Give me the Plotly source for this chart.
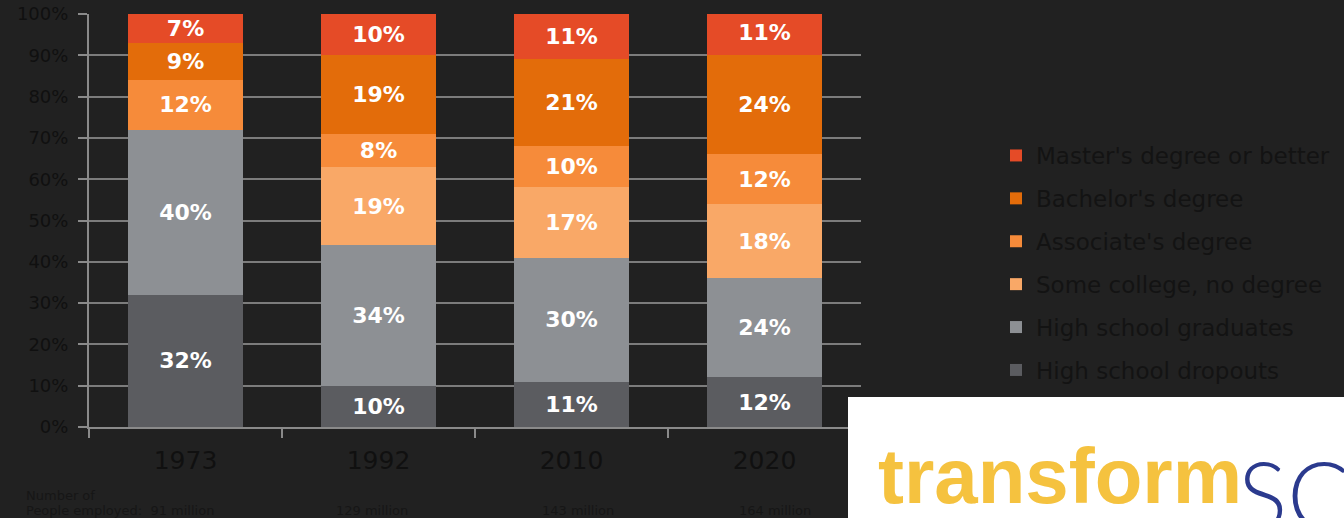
import plotly.graph_objects as go

years = ["1973", "1992", "2010", "2020"]
employed = ["91 million", "129 million", "143 million", "164 million"]

series_names = [
    "High school dropouts",
    "High school graduates",
    "Some college, no degree",
    "Associate's degree",
    "Bachelor's degree",
    "Master's degree or better",
]
dropouts = [32, 10, 11, 12]
hs_grads = [40, 34, 30, 24]
some_college = [0, 19, 17, 18]
associate = [12, 8, 10, 12]
bachelor = [9, 19, 21, 24]
master = [7, 10, 11, 11]
series_values = [dropouts, hs_grads, some_college, associate, bachelor, master]
series_colors = ["#5B5C60", "#8D9094", "#F9A867", "#F68B3A", "#E36C0A", "#E54B27"]

y_ticks = list(range(0, 101, 10))
y_tick_labels = [f"{v}%" for v in y_ticks]

W, H = 1344, 518
L, R, T, B = 89, 861, 14, 427


def px_x(x):
    return (x - L) / (R - L)


def px_y(y):
    return (B - y) / (B - T)


fig = go.Figure()
n = len(series_names)
for i, (name, vals, col) in enumerate(zip(series_names, series_values, series_colors)):
    fig.add_trace(go.Bar(
        x=years, y=vals, name=name,
        marker=dict(color=col, line=dict(width=0)),
        text=[f"{v}%" if v > 0 else "" for v in vals],
        textposition="inside", insidetextanchor="middle",
        constraintext="none", textangle=0,
        textfont=dict(family="DejaVu Sans", size=22, color="white", weight="bold"),
        legendgroup=f"g{i}", legendrank=n - i,
        hoverinfo="skip",
    ))

fig.update_layout(
    width=W, height=H,
    margin=dict(l=L, r=W - R, t=T, b=H - B, pad=0, autoexpand=False),
    paper_bgcolor="#212121", plot_bgcolor="#212121",
    barmode="stack", bargap=0.4,
    showlegend=True,
    legend=dict(
        x=px_x(996), y=px_y(134), xanchor="left", yanchor="top",
        traceorder="grouped", tracegroupgap=10,
        font=dict(family="DejaVu Sans", size=23, color="#131313"),
        bgcolor="rgba(0,0,0,0)",
    ),
    xaxis=dict(
        type="category", automargin=False,
        showline=True, linecolor="#8a8a8a", linewidth=2,
        ticks="outside", tickson="boundaries", ticklen=9, tickcolor="#8a8a8a", tickwidth=2,
        tickfont=dict(family="DejaVu Sans", size=25, color="#101010"),
        showgrid=False,
        ticklabelstandoff=10,
    ),
    yaxis=dict(
        range=[0, 100], tickvals=y_ticks, ticktext=y_tick_labels, automargin=False,
        showline=True, linecolor="#8a8a8a", linewidth=2,
        ticks="outside", ticklen=9, tickcolor="#8a8a8a", tickwidth=2,
        showgrid=True, gridcolor="#7c7c7c", gridwidth=2,
        zeroline=False, ticklabelstandoff=6,
        tickfont=dict(family="DejaVu Sans", size=18, color="#101010"),
    ),
)

# employment annotations under the axis
fig.add_annotation(xref="paper", yref="paper", x=px_x(24), y=px_y(495),
                   text="Number of", showarrow=False, xanchor="left", yanchor="middle",
                   font=dict(family="DejaVu Sans", size=13, color="#161616"))
fig.add_annotation(xref="paper", yref="paper", x=px_x(24), y=px_y(511),
                   text="People employed:  " + employed[0], showarrow=False,
                   xanchor="left", yanchor="middle",
                   font=dict(family="DejaVu Sans", size=13, color="#161616"))
for xpix, emp in zip([372, 578, 775], employed[1:]):
    fig.add_annotation(xref="paper", yref="paper", x=px_x(xpix), y=px_y(511), text=emp,
                       showarrow=False, xanchor="center", yanchor="middle",
                       font=dict(family="DejaVu Sans", size=13, color="#161616"))

# logo box
fig.add_shape(type="rect", xref="paper", yref="paper",
              x0=px_x(848), x1=px_x(1400), y0=px_y(560), y1=px_y(397),
              fillcolor="white", line=dict(width=0), layer="above")
fig.add_annotation(xref="paper", yref="paper", x=px_x(876), y=px_y(430),
                   text="transform", showarrow=False, xanchor="left", yanchor="top",
                   font=dict(family="Liberation Sans", size=78, color="#F5C23F", weight="bold"))
fig.add_annotation(xref="paper", yref="paper", x=px_x(1236), y=px_y(436),
                   text="SC", showarrow=False, xanchor="left", yanchor="top",
                   font=dict(family="Lato, sans-serif", size=92, color="#2B3A8E", weight=300))

fig.write_html("out.html")
